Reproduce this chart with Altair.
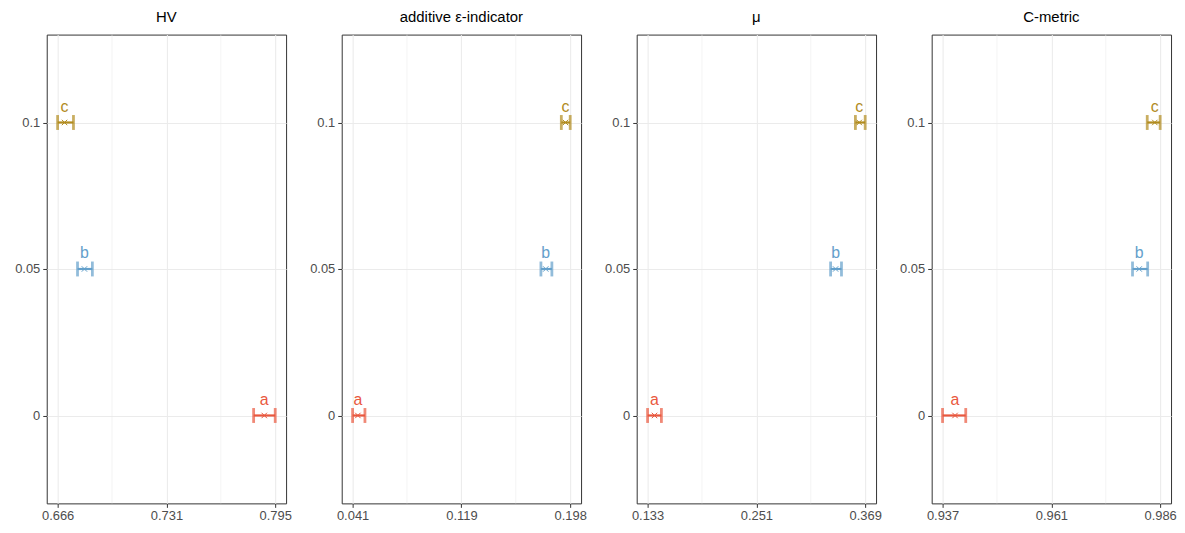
import altair as alt
import pandas as pd

metrics = ["HV", "additive ε-indicator", "μ", "C-metric"]
groups = ["a", "b", "c"]
levels = [0, 0.05, 0.1]
colors = ["#E9573D", "#64A0CB", "#B28C1E"]

# mean, lower, upper per group (a, b, c) for each metric
hv_mean = [0.7885, 0.6819, 0.6701]
hv_lo = [0.7822, 0.6778, 0.6660]
hv_hi = [0.7950, 0.6866, 0.6754]

eps_mean = [0.0446, 0.1800, 0.1942]
eps_lo = [0.0408, 0.1765, 0.1912]
eps_hi = [0.0497, 0.1844, 0.1976]

mu_mean = [0.1405, 0.3369, 0.3626]
mu_lo = [0.1330, 0.3315, 0.3584]
mu_hi = [0.1480, 0.3433, 0.3690]

c_mean = [0.9396, 0.9809, 0.9844]
c_lo = [0.9368, 0.9794, 0.9827]
c_hi = [0.9420, 0.9828, 0.9856]

series = [
    (hv_mean, hv_lo, hv_hi),
    (eps_mean, eps_lo, eps_hi),
    (mu_mean, mu_lo, mu_hi),
    (c_mean, c_lo, c_hi),
]

FONT = "Liberation Sans"
color_scale = alt.Scale(domain=groups, range=colors)


def panel(title, mean, lo, hi):
    df = pd.DataFrame({"group": groups, "y": levels, "mean": mean, "lo": lo, "hi": hi})
    vmin, vmax = min(lo), max(hi)
    pad = (vmax - vmin) * 0.05
    ticks = [vmin, (vmin + vmax) / 2, vmax]
    minor = [(ticks[0] + ticks[1]) / 2, (ticks[1] + ticks[2]) / 2]
    xscale = alt.Scale(domain=[vmin - pad, vmax + pad], nice=False, zero=False)
    yscale = alt.Scale(domain=[-0.03, 0.13], nice=False, zero=False)

    xaxis = alt.Axis(title=None, values=ticks, format=".3f", grid=True,
                     gridColor="#EBEBEB", gridWidth=1.07, domain=False,
                     tickColor="#333333", tickSize=4, labelPadding=2)
    yaxis = alt.Axis(title=None, values=levels, format="~g", grid=True,
                     gridColor="#EBEBEB", gridWidth=1.07, domain=False,
                     tickColor="#333333", tickSize=4, labelPadding=3, minExtent=38)

    grid = alt.Chart(pd.DataFrame({"v": minor})).mark_rule(
        color="#EBEBEB", strokeWidth=0.55
    ).encode(x=alt.X("v:Q", scale=xscale, axis=xaxis))

    base = alt.Chart(df)
    bar = base.mark_rule(strokeWidth=2.2).encode(
        x=alt.X("lo:Q", scale=xscale, axis=xaxis),
        x2="hi:Q",
        y=alt.Y("y:Q", scale=yscale, axis=yaxis),
        color=alt.Color("group:N", scale=color_scale, legend=None),
    )
    cap_lo = base.mark_tick(orient="vertical", size=15, thickness=2.8).encode(
        x=alt.X("lo:Q", scale=xscale),
        y=alt.Y("y:Q", scale=yscale),
        color=alt.Color("group:N", scale=color_scale, legend=None),
    )
    cap_hi = base.mark_tick(orient="vertical", size=15, thickness=2.8).encode(
        x=alt.X("hi:Q", scale=xscale),
        y=alt.Y("y:Q", scale=yscale),
        color=alt.Color("group:N", scale=color_scale, legend=None),
    )
    pt = base.mark_point(shape="M-1,-1L1,1M-1,1L1,-1", filled=False, size=30,
                         strokeWidth=1, opacity=1).encode(
        x=alt.X("mean:Q", scale=xscale),
        y=alt.Y("y:Q", scale=yscale),
        color=alt.Color("group:N", scale=color_scale, legend=None),
    )
    txt = base.mark_text(dy=-16, fontSize=16, font=FONT, baseline="middle").encode(
        x=alt.X("mean:Q", scale=xscale),
        y=alt.Y("y:Q", scale=yscale),
        text="group:N",
        color=alt.Color("group:N", scale=color_scale, legend=None),
    )
    return alt.layer(grid, bar, cap_lo, cap_hi, pt, txt).properties(
        width=241, height=472,
        title=alt.TitleParams(title, fontSize=15, font=FONT, fontWeight="normal",
                              color="#000000", anchor="middle", offset=9),
    )


chart = alt.hconcat(
    *[panel(t, *s) for t, s in zip(metrics, series)], spacing=11
).properties(padding=0).configure_view(
    stroke="#333333", strokeWidth=1
).configure_axis(
    labelFont=FONT, labelFontSize=13, labelColor="#4D4D4D"
)

chart.save("out.html", embed_options={"renderer": "svg", "actions": False})
